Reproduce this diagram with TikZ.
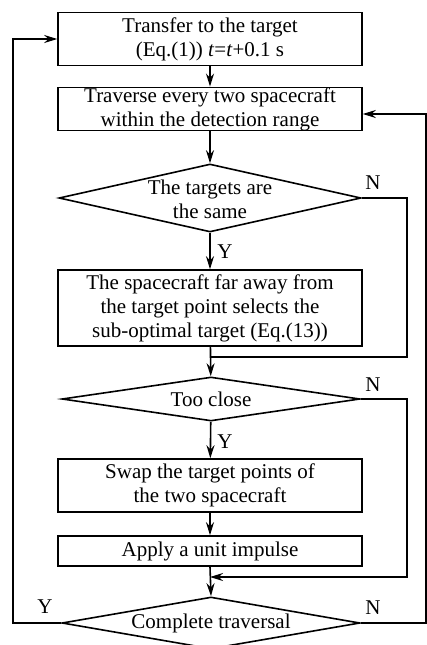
\documentclass[tikz,border=0pt]{standalone}
\usepackage{fontspec}
\setmainfont{Liberation Serif}
\usetikzlibrary{shapes.geometric,arrows.meta}
\begin{document}
\begin{tikzpicture}[x=1pt,y=-1pt,
  every node/.style={font=\fontsize{21}{24}\selectfont},
  box/.style={draw, line width=1.6pt, minimum width=304pt, align=center, inner sep=0pt},
  dia/.style={draw, diamond, line width=1.6pt, inner sep=0pt},
  lbl/.style={align=center, inner sep=0pt},
  yn/.style={inner sep=0pt},
  arr/.style={-{Stealth[length=13pt,width=8pt]}, line width=1.6pt},
  ln/.style={line width=1.6pt}]
\useasboundingbox (0,0) rectangle (427,645);
% boxes
\node[box, minimum height=53pt] (b1) at (210,39) {Transfer to the target\\(Eq.(1)) \textit{t}=\textit{t}+0.1 s};
\node[box, minimum height=42pt] (b2) at (210,109) {Traverse every two spacecraft\\within the detection range};
\node[dia, minimum width=302pt, minimum height=68pt] (d1) at (210,198) {};
\node[lbl] (t1) at (210,199) {The targets are\\the same};
\node[box, minimum height=76pt] (b3) at (210,308) {The spacecraft far away from\\the target point selects the\\sub-optimal target (Eq.(13))};
\node[dia, minimum width=298pt, minimum height=44pt] (d2) at (211,399) {};
\node[lbl] (t2) at (211,399) {Too close};
\node[box, minimum height=53pt] (b4) at (210,485.5) {Swap the target points of\\the two spacecraft};
\node[box, minimum height=30pt] (b5) at (210,551) {Apply a unit impulse};
\node[dia, minimum width=298pt, minimum height=52pt] (d3) at (211,623) {};
\node[lbl] (t3) at (211,623) {Complete traversal};
% labels
\node[yn] (n1) at (373,183) {N};
\node[yn] (y1) at (225,252) {Y};
\node[yn] (n2) at (373,385) {N};
\node[yn] (y2) at (225,442) {Y};
\node[yn] (y3) at (45,607) {Y};
\node[yn] (n3) at (373,608) {N};
% helper coordinates
\coordinate (j1) at (210,357);
\coordinate (j2) at (210,577);
\coordinate (r1) at (407,198);
\coordinate (r2) at (407,399);
\coordinate (lft) at (13,623);
\coordinate (ltop) at (13,39);
\coordinate (rgt) at (426,623);
\coordinate (rtop) at (426,114);
% connectors
\draw[arr] (b1) -- (b2);
\draw[arr] (b2) -- (d1);
\draw[arr] (d1) -- (b3);
\draw[arr] (b3) -- (d2);
\draw[ln] (d1.east) -- (r1) -- (r1 |- j1) -- (j1);
\draw[arr] (d2) -- (b4);
\draw[arr] (b4) -- (b5);
\draw[arr] (b5.south) -- (d3.north);
\draw[arr] (d2.east) -- (r2) -- (r2 |- j2) -- (j2);
\draw[arr] (d3.west) -- (lft) -- (ltop) -- (b1.west);
\draw[arr] (d3.east) -- (rgt) -- (rtop) -- (b2.east |- rtop);
\end{tikzpicture}
\end{document}
